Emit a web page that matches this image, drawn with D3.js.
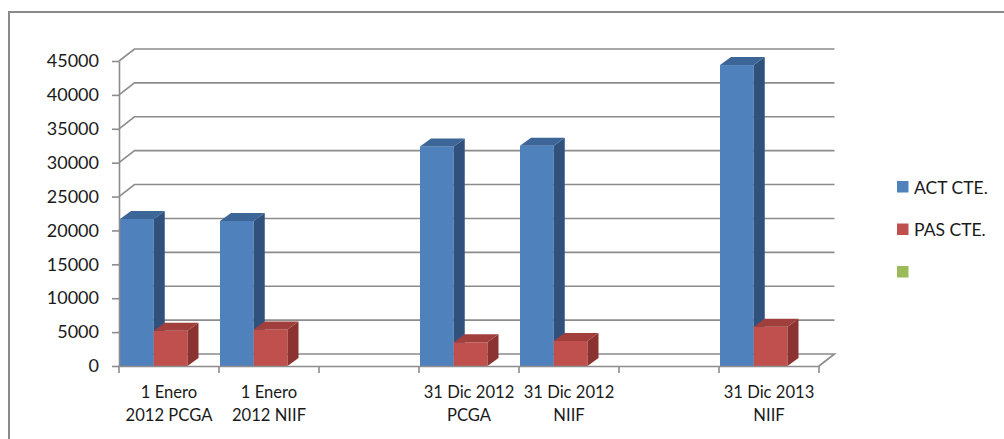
<!DOCTYPE html>
<html>
<head>
<meta charset="utf-8">
<script src="https://cdn.jsdelivr.net/npm/d3@7/dist/d3.min.js"></script>
<style>
  html, body { margin: 0; padding: 0; background: #fff; }
  svg { display: block; }
  text { font-family: Lato, "Liberation Sans", sans-serif; fill: #1a1a1a; }
</style>
</head>
<body>
<svg id="chart" width="1004" height="439"></svg>
<script>
// ---- data ----
const categories = ["1 Enero\n2012 PCGA", "1 Enero\n2012 NIIF", "", "31 Dic 2012\nPCGA", "31 Dic 2012\nNIIF", "", "31 Dic 2013\nNIIF"];
const seriesNames = ["ACT CTE.", "PAS CTE.", ""];
const actCte = [21700, 21400, null, 32400, 32500, null, 44400];
const pasCte = [5200, 5400, null, 3500, 3700, null, 5800];
const yTicks = [0, 5000, 10000, 15000, 20000, 25000, 30000, 35000, 40000, 45000];
const seriesColors = [
  { front: "#4F81BD", side: "#30517C", top: "#3C6598" },
  { front: "#C0504D", side: "#8A3330", top: "#A03F3C" },
  { front: "#9BBB59", side: "#6E8A3A", top: "#86A64A" }
];

// ---- layout ----
const svg = d3.select("#chart");
const X0 = 119, X1 = 819, Y0 = 366, Y1 = 61;
const DX = 15.5, DY = -12;      // wall depth
const BDX = 11, BDY = -8;       // bar depth

const x = d3.scaleBand().domain(d3.range(categories.length)).range([X0, X1]).padding(0);
const y = d3.scaleLinear().domain([0, 45000]).range([Y0, Y1]);
const inner = d3.scaleBand().domain([0, 1]).range([1, 68.5]).padding(0);

svg.append("rect").attr("width", 1004).attr("height", 439).attr("fill", "#fff");
// chart border
svg.append("rect").attr("x", 9).attr("y", 12).attr("width", 1100).attr("height", 600)
  .attr("fill", "none").attr("stroke", "#8a8a8a").attr("stroke-width", 2);

// gridlines (side wall diagonal + back wall)
const grid = svg.append("g").attr("fill", "none").attr("stroke", "#8c8c8c").attr("stroke-width", 1.6);
yTicks.forEach(t => {
  const yy = y(t);
  let d = `M${X0},${yy}L${X0 + DX},${yy + DY}L${X1 + DX},${yy + DY}`;
  if (t === 0) d += `L${X1},${yy}`;
  grid.append("path").attr("d", d);
});

// bars
const seriesData = [actCte, pasCte];
const barsG = svg.append("g");
categories.forEach((c, i) => {
  seriesData.forEach((vals, s) => {
    const v = vals[i];
    if (v == null) return;
    const xs = x(i) + inner(s);
    const bw = inner.bandwidth();
    const yt = y(v), yb = y(0);
    const col = seriesColors[s];
    barsG.append("rect").attr("x", xs).attr("y", yt).attr("width", bw).attr("height", yb - yt)
      .attr("fill", col.front);
    barsG.append("path")
      .attr("d", `M${xs + bw},${yt}L${xs + bw + BDX},${yt + BDY}L${xs + bw + BDX},${yb + BDY}L${xs + bw},${yb}Z`)
      .attr("fill", col.side);
    barsG.append("path")
      .attr("d", `M${xs},${yt}L${xs + BDX},${yt + BDY}L${xs + bw + BDX},${yt + BDY}L${xs + bw},${yt}Z`)
      .attr("fill", col.top);
  });
});

// y axis
const yAxis = svg.append("g").attr("transform", `translate(${X0},0)`)
  .call(d3.axisLeft(y).tickValues(yTicks).tickFormat(d3.format("d")).tickSizeInner(7).tickSizeOuter(0).tickPadding(13));
yAxis.select(".domain").attr("stroke", "#8c8c8c").attr("stroke-width", 1.6);
yAxis.selectAll(".tick line").attr("stroke", "#8c8c8c").attr("stroke-width", 1.6);
yAxis.selectAll(".tick text").style("font-family", "Lato, 'Liberation Sans', sans-serif")
  .style("font-size", "18px").attr("fill", "#1a1a1a");

// x axis
const xAxis = svg.append("g").attr("transform", `translate(0,${Y0})`)
  .call(d3.axisBottom(x).tickValues([]).tickSizeOuter(0));
xAxis.select(".domain").attr("stroke", "#8c8c8c").attr("stroke-width", 1.6);
const xt = svg.append("g");
d3.range(categories.length + 1).forEach(i => {
  const xx = i < categories.length ? x(i) : X1;
  xt.append("line").attr("x1", xx).attr("x2", xx).attr("y1", Y0).attr("y2", Y0 + 7)
    .attr("stroke", "#8c8c8c").attr("stroke-width", 1.6);
});
categories.forEach((c, i) => {
  if (!c) return;
  const lines = c.split("\n");
  const t = svg.append("text").attr("text-anchor", "middle")
    .attr("x", x(i) + x.bandwidth() / 2).attr("y", 398).style("font-size", "16.6px");
  lines.forEach((ln, k) => t.append("tspan").attr("x", x(i) + x.bandwidth() / 2).attr("dy", k ? 23 : 0).text(ln));
});

// legend
const leg = svg.append("g");
seriesNames.forEach((n, i) => {
  const ly = 187 + i * 42.5;
  leg.append("rect").attr("x", 897).attr("y", ly - 6).attr("width", 11.5).attr("height", 11.5)
    .attr("fill", seriesColors[i].front);
  leg.append("text").attr("x", 914).attr("y", ly + 6.5).style("font-size", "17.5px").text(n);
});
</script>
</body>
</html>
